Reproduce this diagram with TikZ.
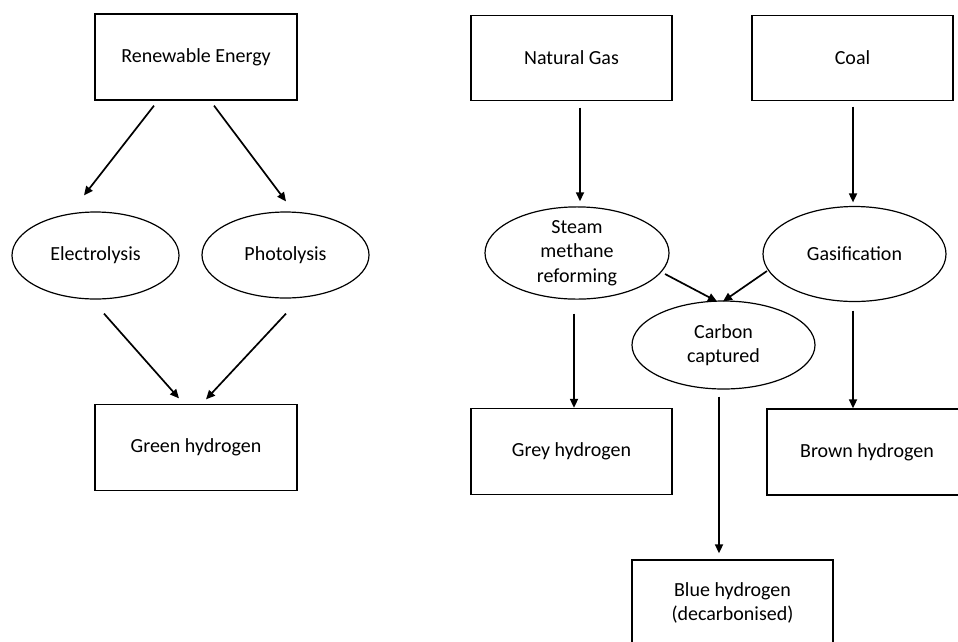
\documentclass[tikz,border=0pt]{standalone}
\usepackage{fontspec}
\setmainfont{Carlito}
\usetikzlibrary{shapes.geometric,arrows.meta}
\tikzset{
  box/.style={draw, line width=1.3pt, rectangle, inner sep=0pt, align=center, font=\fontsize{20}{24.4}\selectfont},
  oval/.style={draw, line width=1.2pt, ellipse, inner sep=0pt, align=center, font=\fontsize{20}{24.4}\selectfont},
  arr/.style={line width=1.7pt, -{Triangle[length=9pt,width=8pt]}}
}
\begin{document}
\begin{tikzpicture}[x=1pt,y=-1pt]
\useasboundingbox (0,0) rectangle (958,641);
\clip (0,0) rectangle (958,641);
% boxes
\node[box, minimum width=202pt, minimum height=86pt] (ren) at (196,57) {Renewable Energy};
\node[box, minimum width=201pt, minimum height=85pt] (ng) at (571.5,58) {Natural Gas};
\node[box, minimum width=201pt, minimum height=85pt] (coal) at (852.5,58) {Coal};
\node[box, minimum width=202pt, minimum height=86pt] (green) at (196,447.5) {Green hydrogen};
\node[box, minimum width=201pt, minimum height=86pt] (grey) at (571.5,451.5) {Grey hydrogen};
\node[box, minimum width=200pt, minimum height=86pt] (brown) at (867,452) {Brown hydrogen};
\node[box, minimum width=201pt, minimum height=86pt] (blue) at (732.5,603) {Blue hydrogen\\(decarbonised)};
% ellipses
\node[oval, minimum width=167pt, minimum height=87pt] (elec) at (95.5,255.5) {Electrolysis};
\node[oval, minimum width=167pt, minimum height=86pt] (photo) at (285.5,255) {Photolysis};
\node[oval, minimum width=184pt, minimum height=88pt] (smr) at (577,253) {Steam\\methane\\reforming};
\node[oval, minimum width=183pt, minimum height=95pt] (gas) at (854.5,254) {Gasification};
\node[oval, minimum width=183pt, minimum height=88pt] (cc) at (723.5,345) {Carbon\\captured};
% arrows
\draw[arr] ([shift={(-42,5)}]ren.south) -- ([shift={(-11.5,-16)}]elec.north);
\draw[arr] ([shift={(18,5)}]ren.south) -- ([shift={(0.5,-10)}]photo.north);
\draw[arr] ([shift={(8.5,14)}]elec.south) -- ([shift={(-17,-5.5)}]green.north);
\draw[arr] ([shift={(0.5,15)}]photo.south) -- ([shift={(10,-4.5)}]green.north);
\draw[arr] ([shift={(8.5,6.5)}]ng.south) -- ([shift={(3,-5)}]smr.north);
\draw[arr] ([shift={(0.5,5.5)}]coal.south) -- ([shift={(-1.5,-3.5)}]gas.north);
\draw[arr] ([shift={(88,21)}]smr.center) -- ([shift={(-6.5,1)}]cc.north);
\draw[arr] ([shift={(-87.5,17)}]gas.center) -- ([shift={(-0.5,1)}]cc.north);
\draw[arr] ([shift={(-3,14)}]smr.south) -- ([shift={(2.5,0)}]grey.north);
\draw[arr] ([shift={(-1.5,8.5)}]gas.south) -- ([shift={(-14,0)}]brown.north);
\draw[arr] ([shift={(-4.5,7)}]cc.south) -- ([shift={(-13.5,-6)}]blue.north);
\end{tikzpicture}
\end{document}
